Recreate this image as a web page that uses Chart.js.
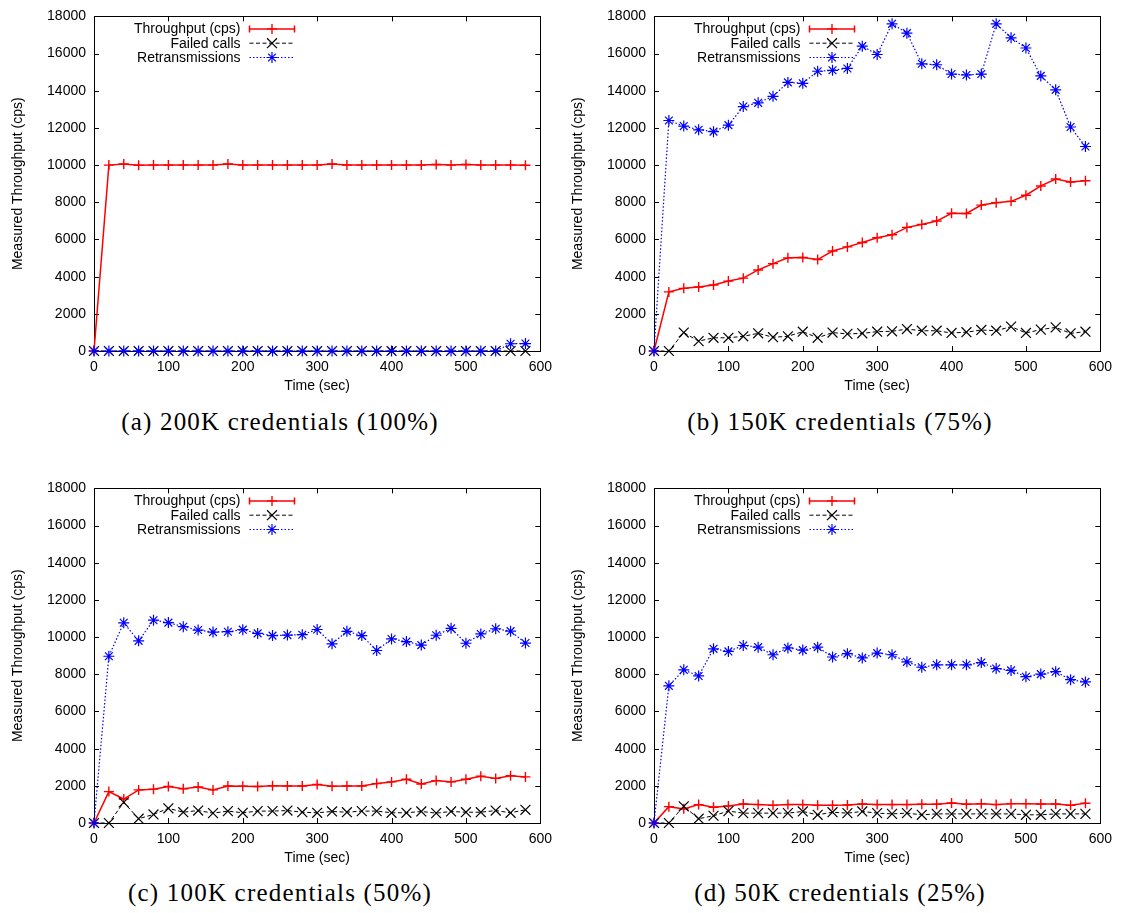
<!DOCTYPE html>
<html>
<head>
<meta charset="utf-8">
<script src="https://cdn.jsdelivr.net/npm/chart.js@4.4.1/dist/chart.umd.min.js"></script>
<style>
  html, body { margin: 0; padding: 0; background: #fff; }
  body { width: 1128px; height: 913px; position: relative; overflow: hidden; }
  .cell { position: absolute; width: 560px; height: 400px; }
  .cell canvas { display: block; }
  .cap {
    position: absolute; width: 560px; text-align: center;
    font-family: "Liberation Serif", "Times New Roman", serif;
    font-size: 25px; line-height: 28px; letter-spacing: 1.2px; color: #000;
  }
</style>
</head>
<body>
<div class="cell" style="left:0;top:0"><canvas id="panelA" width="560" height="400"></canvas></div>
<div class="cell" style="left:560px;top:0"><canvas id="panelB" width="560" height="400"></canvas></div>
<div class="cell" style="left:0;top:472px"><canvas id="panelC" width="560" height="400"></canvas></div>
<div class="cell" style="left:560px;top:472px"><canvas id="panelD" width="560" height="400"></canvas></div>
<div class="cap" style="left:0;top:408px">(a) 200K credentials (100%)</div>
<div class="cap" style="left:560px;top:408px">(b) 150K credentials (75%)</div>
<div class="cap" style="left:0;top:879px">(c) 100K credentials (50%)</div>
<div class="cap" style="left:560px;top:879px">(d) 50K credentials (25%)</div>

<script>
// Sampling instants (seconds)
const timeSec = [0, 20, 40, 60, 80, 100, 120, 140, 160, 180, 200, 220, 240, 260, 280,
                 300, 320, 340, 360, 380, 400, 420, 440, 460, 480, 500, 520, 540, 560, 580];

const seriesNames = ['Throughput (cps)', 'Failed calls', 'Retransmissions'];
const xTicks = [0, 100, 200, 300, 400, 500, 600];
const yTicks = [0, 2000, 4000, 6000, 8000, 10000, 12000, 14000, 16000, 18000];

// (a) 200K credentials
const throughputA = [0, 10000, 10060, 9990, 10000, 10000, 10000, 10000, 10000, 10060, 10000, 10000, 10000, 10000, 10000,
                     10000, 10060, 10000, 10000, 10000, 10000, 10000, 10000, 10030, 10000, 10030, 10000, 10000, 10000, 9990];
const failedA     = [0, 0, 0, 0, 0, 0, 0, 0, 0, 0, 0, 0, 0, 0, 0,
                     0, 0, 0, 0, 0, 0, 0, 0, 0, 0, 0, 0, 0, 0, 0];
const retransA    = [0, 0, 0, 0, 0, 0, 0, 0, 0, 0, 0, 0, 0, 0, 0,
                     0, 0, 0, 0, 0, 0, 0, 0, 0, 0, 0, 0, 0, 390, 400];

// (b) 150K credentials
const throughputB = [0, 3180, 3370, 3440, 3550, 3760, 3920, 4360, 4700, 5010, 5030, 4920, 5380, 5600, 5840,
                     6090, 6250, 6650, 6810, 6990, 7410, 7400, 7850, 7980, 8050, 8380, 8880, 9250, 9090, 9160];
const failedB     = [0, 0, 990, 530, 710, 710, 790, 950, 740, 790, 1040, 710, 990, 920, 950,
                     1040, 1060, 1180, 1090, 1090, 970, 1010, 1130, 1090, 1310, 970, 1150, 1270, 950, 1040];
const retransB    = [0, 12400, 12100, 11900, 11800, 12150, 13150, 13350, 13700, 14450, 14400, 15050, 15100, 15200, 16400,
                     15950, 17600, 17100, 15450, 15400, 14900, 14850, 14900, 17600, 16850, 16300, 14800, 14050, 12050, 11000];

// (c) 100K credentials
const throughputC = [0, 1690, 1290, 1780, 1820, 1960, 1840, 1940, 1780, 1990, 1980, 1960, 2010, 1990, 1990,
                     2070, 1980, 1990, 1990, 2120, 2210, 2350, 2100, 2280, 2210, 2350, 2520, 2400, 2540, 2480];
const failedC     = [0, 0, 1110, 230, 460, 790, 580, 670, 530, 640, 550, 640, 640, 670, 580,
                     550, 620, 580, 640, 640, 550, 550, 620, 530, 620, 580, 580, 670, 550, 710];
const retransC    = [0, 8970, 10770, 9800, 10910, 10780, 10560, 10380, 10270, 10290, 10400, 10200, 10080, 10110, 10130,
                     10410, 9640, 10310, 10080, 9280, 9900, 9760, 9570, 10100, 10470, 9670, 10170, 10450, 10320, 9680];

// (d) 50K credentials
const throughputD = [0, 880, 760, 990, 850, 920, 1020, 990, 950, 990, 990, 950, 950, 970, 1020,
                     990, 990, 990, 1010, 1010, 1080, 1010, 1040, 990, 1040, 1040, 1020, 1020, 950, 1060];
const failedD     = [0, 0, 900, 230, 390, 640, 530, 530, 530, 530, 620, 440, 580, 530, 620,
                     530, 490, 530, 440, 490, 490, 490, 490, 490, 490, 440, 440, 490, 490, 490];
const retransD    = [0, 7380, 8240, 7910, 9370, 9230, 9550, 9460, 9050, 9420, 9300, 9460, 8930, 9110, 8880,
                     9140, 9050, 8670, 8380, 8510, 8510, 8510, 8630, 8310, 8210, 7870, 8010, 8140, 7710, 7590];

const SANS = '"Liberation Sans", Arial, Helvetica, sans-serif';
const TEXT_FONT = { family: SANS, size: 14 };

// Closed border with inward ticks on all four sides
const frameTicks = {
  id: 'frameTicks',
  beforeDatasetsDraw(chart) {
    const { ctx, chartArea: a, scales: { x, y } } = chart;
    const len = 5;
    ctx.save();
    ctx.strokeStyle = '#000';
    ctx.lineWidth = 1;
    ctx.beginPath();
    for (const t of y.ticks) {
      const py = Math.round(y.getPixelForValue(t.value)) + 0.5;
      ctx.moveTo(a.left, py); ctx.lineTo(a.left + len, py);
      ctx.moveTo(a.right, py); ctx.lineTo(a.right - len, py);
    }
    for (const t of x.ticks) {
      const px = Math.round(x.getPixelForValue(t.value)) + 0.5;
      ctx.moveTo(px, a.bottom); ctx.lineTo(px, a.bottom - len);
      ctx.moveTo(px, a.top); ctx.lineTo(px, a.top + len);
    }
    ctx.stroke();
    ctx.strokeRect(Math.round(a.left) + 0.5, Math.round(a.top) + 0.5,
                   Math.round(a.right - a.left), Math.round(a.bottom - a.top));
    ctx.restore();
  }
};

// Key in the upper-left corner: right-aligned text, then a line sample with its marker
const keyBox = {
  id: 'keyBox',
  afterDraw(chart) {
    const { ctx, chartArea: a } = chart;
    const textRight = a.left + 146.5;
    const x0 = a.left + 155.5, x1 = a.left + 200.5, xm = (x0 + x1) / 2;
    ctx.save();
    chart.data.datasets.forEach((ds, i) => {
      const yy = a.top + 12.5 + i * 14.3;
      ctx.font = '14px ' + SANS;
      ctx.fillStyle = '#000';
      ctx.textAlign = 'right';
      ctx.textBaseline = 'middle';
      ctx.fillText(ds.label, textRight, yy + 0.5);

      ctx.strokeStyle = ds.borderColor;
      ctx.lineWidth = ds.borderWidth;
      ctx.setLineDash(ds.borderDash || []);
      ctx.beginPath();
      ctx.moveTo(x0, yy); ctx.lineTo(x1, yy);
      ctx.stroke();
      ctx.setLineDash([]);
      if (i === 0) {
        ctx.beginPath();
        ctx.moveTo(x0, yy - 3.5); ctx.lineTo(x0, yy + 3.5);
        ctx.moveTo(x1, yy - 3.5); ctx.lineTo(x1, yy + 3.5);
        ctx.stroke();
      }
      ctx.fillStyle = ds.borderColor;
      ctx.lineWidth = ds.pointBorderWidth;
      Chart.helpers.drawPoint(ctx, {
        pointStyle: ds.pointStyle, radius: ds.pointRadius, rotation: 0,
        borderWidth: ds.pointBorderWidth
      }, xm, yy);
    });
    ctx.restore();
  }
};

function pairs(values) {
  return timeSec.map((t, i) => ({ x: t, y: values[i] }));
}

function buildPanel(canvasId, throughput, failed, retrans) {
  return new Chart(document.getElementById(canvasId), {
    type: 'line',
    data: {
      datasets: [
        {
          label: seriesNames[0], data: pairs(throughput), order: 2,
          borderColor: '#ff0000', backgroundColor: '#ff0000', borderWidth: 1.5,
          pointStyle: 'cross', pointRadius: 5, pointBorderWidth: 1.4,
          pointBorderColor: '#ff0000', pointBackgroundColor: '#ff0000',
          tension: 0, clip: false
        },
        {
          label: seriesNames[1], data: pairs(failed), order: 1,
          borderColor: '#000000', backgroundColor: '#000000', borderWidth: 1,
          borderDash: [4, 2.5],
          pointStyle: 'crossRot', pointRadius: 7, pointBorderWidth: 1.2,
          pointBorderColor: '#000000', pointBackgroundColor: '#000000',
          tension: 0, clip: false
        },
        {
          label: seriesNames[2], data: pairs(retrans), order: 0,
          borderColor: '#0000ff', backgroundColor: '#0000ff', borderWidth: 1.2,
          borderDash: [1.5, 2],
          pointStyle: 'star', pointRadius: 5.5, pointBorderWidth: 1.2,
          pointBorderColor: '#0000ff', pointBackgroundColor: '#0000ff',
          tension: 0, clip: false
        }
      ]
    },
    options: {
      responsive: false,
      animation: false,
      devicePixelRatio: 1,
      events: [],
      layout: { padding: { top: 11, right: 18, bottom: 0, left: 0 } },
      plugins: { legend: { display: false }, tooltip: { enabled: false } },
      scales: {
        x: {
          type: 'linear', min: xTicks[0], max: xTicks[xTicks.length - 1],
          afterBuildTicks(s) { s.ticks = xTicks.map(v => ({ value: v })); },
          afterFit(s) { s.height = 49; },
          grid: { display: false, drawTicks: false },
          border: { display: false },
          ticks: { padding: 8, color: '#000', font: TEXT_FONT, maxRotation: 0, autoSkip: false,
                   callback: v => String(v) },
          title: { display: true, text: 'Time (sec)', color: '#000', font: TEXT_FONT,
                   padding: { top: 2, bottom: 5 } }
        },
        y: {
          type: 'linear', min: yTicks[0], max: yTicks[yTicks.length - 1],
          afterBuildTicks(s) { s.ticks = yTicks.map(v => ({ value: v })); },
          afterFit(s) { s.width = 94; },
          grid: { display: false, drawTicks: false },
          border: { display: false },
          ticks: { padding: 8, color: '#000', font: TEXT_FONT, autoSkip: false,
                   callback: v => String(v) },
          title: { display: true, text: 'Measured Throughput (cps)', color: '#000', font: TEXT_FONT,
                   padding: { top: 9.6, bottom: 0 } }
        }
      }
    },
    plugins: [frameTicks, keyBox]
  });
}

buildPanel('panelA', throughputA, failedA, retransA);
buildPanel('panelB', throughputB, failedB, retransB);
buildPanel('panelC', throughputC, failedC, retransC);
buildPanel('panelD', throughputD, failedD, retransD);
</script>
</body>
</html>
